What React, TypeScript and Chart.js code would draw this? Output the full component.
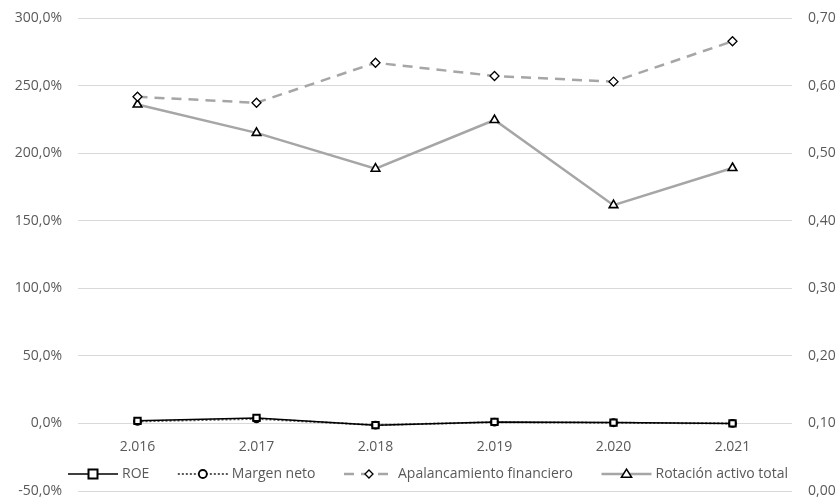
import React, { useEffect, useRef } from "react";
import { Chart, registerables } from "chart.js";

Chart.register(...registerables);

const categories = ["2.016", "2.017", "2.018", "2.019", "2.020", "2.021"];
const roe = [0.019, 0.041, -0.013, 0.011, 0.006, 0.0];
const margenNeto = [0.015, 0.034, -0.012, 0.009, 0.005, 0.0];
const apalancamiento = [2.417, 2.373, 2.669, 2.571, 2.529, 2.828];
const rotacion = [0.572, 0.53, 0.477, 0.549, 0.423, 0.478];
const seriesNames = ["ROE", "Margen neto", "Apalancamiento financiero", "Rotación activo total"];

const FONT = "'Open Sans', 'Liberation Sans', sans-serif";
const FONT_SIZE = 14;
const TEXT_COLOR = "#595959";
const GRID_COLOR = "#d9d9d9";

function drawMarker(ctx: CanvasRenderingContext2D, style: string, x: number, y: number, r: number) {
  ctx.beginPath();
  if (style === "rect") {
    ctx.rect(x - r, y - r, 2 * r, 2 * r);
  } else if (style === "circle") {
    ctx.arc(x, y, r, 0, Math.PI * 2);
  } else if (style === "rectRot") {
    ctx.moveTo(x, y - r);
    ctx.lineTo(x + r, y);
    ctx.lineTo(x, y + r);
    ctx.lineTo(x - r, y);
    ctx.closePath();
  } else if (style === "triangle") {
    const h = r * 1.6;
    ctx.moveTo(x, y - h * 0.6);
    ctx.lineTo(x + r, y + h * 0.4);
    ctx.lineTo(x - r, y + h * 0.4);
    ctx.closePath();
  }
  ctx.fill();
  ctx.stroke();
}

const legendPlugin = {
  id: "customLegend",
  afterDraw(chart: any) {
    const ctx: CanvasRenderingContext2D = chart.ctx;
    const area = chart.chartArea;
    ctx.save();
    ctx.font = `${FONT_SIZE}px ${FONT}`;
    const symW = 50;
    const textGap = 4;
    const widths = seriesNames.map((n) => ctx.measureText(n).width);
    const startX = area.left - 10;
    const endX = area.right - 4;
    const used = widths.reduce((a, w) => a + symW + textGap + w, 0);
    const itemGap = (endX - startX - used) / (seriesNames.length - 1);
    const y = area.bottom - 17;
    let x = startX;
    chart.data.datasets.forEach((ds: any, i: number) => {
      ctx.save();
      ctx.strokeStyle = ds.borderColor;
      ctx.lineWidth = ds.borderWidth;
      ctx.setLineDash(ds.borderDash || []);
      ctx.beginPath();
      ctx.moveTo(x, y);
      ctx.lineTo(x + symW, y);
      ctx.stroke();
      ctx.setLineDash([]);
      ctx.fillStyle = ds.pointBackgroundColor;
      ctx.strokeStyle = ds.pointBorderColor;
      ctx.lineWidth = ds.pointBorderWidth;
      drawMarker(ctx, ds.pointStyle, x + symW / 2, y, ds.legendRadius);
      ctx.restore();
      ctx.fillStyle = TEXT_COLOR;
      ctx.textBaseline = "middle";
      ctx.textAlign = "left";
      ctx.fillText(seriesNames[i], x + symW + textGap, y);
      x += symW + textGap + widths[i] + itemGap;
    });
    ctx.restore();
  },
};

export default function App() {
  const ref = useRef<HTMLCanvasElement | null>(null);
  useEffect(() => {
    document.body.style.margin = "0";
    const canvas = ref.current!;
    const chart = new Chart(canvas, {
      type: "line",
      data: {
        labels: categories,
        datasets: [
          {
            label: seriesNames[0],
            data: roe,
            yAxisID: "y",
            borderColor: "#000000",
            borderWidth: 1.5,
            pointStyle: "rect",
            pointRadius: 4.5,
            pointBorderWidth: 2,
            pointBorderColor: "#000000",
            pointBackgroundColor: "#ffffff",
            legendRadius: 4.5,
          } as any,
          {
            label: seriesNames[1],
            data: margenNeto,
            yAxisID: "y",
            borderColor: "#595959",
            borderWidth: 2,
            borderDash: [2, 2],
            pointStyle: "circle",
            pointRadius: 3.5,
            pointBorderWidth: 1.8,
            pointBorderColor: "#000000",
            pointBackgroundColor: "#ffffff",
            legendRadius: 4,
          } as any,
          {
            label: seriesNames[2],
            data: apalancamiento,
            yAxisID: "y",
            borderColor: "#a6a6a6",
            borderWidth: 2.5,
            borderDash: [10, 7],
            pointStyle: "rectRot",
            pointRadius: 4.5,
            pointBorderWidth: 1.3,
            pointBorderColor: "#000000",
            pointBackgroundColor: "#ffffff",
            legendRadius: 4,
          } as any,
          {
            label: seriesNames[3],
            data: rotacion,
            yAxisID: "y1",
            borderColor: "#a6a6a6",
            borderWidth: 2.5,
            pointStyle: "triangle",
            pointRadius: 5,
            pointBorderWidth: 1.6,
            pointBorderColor: "#000000",
            pointBackgroundColor: "#ffffff",
            legendRadius: 5,
          } as any,
        ],
      },
      options: {
        responsive: false,
        animation: false,
        devicePixelRatio: 1,
        layout: { padding: { top: 18, bottom: 9, left: 0, right: 0 } },
        plugins: {
          legend: { display: false },
          tooltip: { enabled: false },
        },
        elements: { line: { tension: 0 } },
        scales: {
          x: {
            position: { y: 0 } as any,
            offset: true,
            grid: { display: false, drawTicks: false },
            border: { display: false },
            ticks: {
              padding: 15,
              color: TEXT_COLOR,
              font: { family: FONT, size: FONT_SIZE },
              maxRotation: 0,
            },
            afterFit: (s: any) => {
              s.height = 0;
              s.paddingLeft = 0;
              s.paddingRight = 0;
            },
          },
          y: {
            position: "left",
            min: -0.5,
            max: 3,
            ticks: {
              stepSize: 0.5,
              padding: 16,
              color: TEXT_COLOR,
              font: { family: FONT, size: FONT_SIZE },
              callback: (v: any) => (Number(v) * 100).toFixed(1).replace(".", ",") + "%",
            },
            grid: { color: GRID_COLOR, lineWidth: 1, drawTicks: false },
            border: { display: false },
            afterFit: (s: any) => {
              s.width = 78;
              s.paddingTop = 0;
              s.paddingBottom = 0;
            },
          },
          y1: {
            position: "right",
            min: 0,
            max: 0.7,
            ticks: {
              stepSize: 0.1,
              padding: 16,
              color: TEXT_COLOR,
              font: { family: FONT, size: FONT_SIZE },
              callback: (v: any) => Number(v).toFixed(2).replace(".", ","),
            },
            grid: { drawOnChartArea: false, drawTicks: false },
            border: { display: false },
            afterFit: (s: any) => {
              s.width = 47;
              s.paddingTop = 0;
              s.paddingBottom = 0;
            },
          },
        },
      },
      plugins: [legendPlugin],
    });
    return () => chart.destroy();
  }, []);
  return (
    <div style={{ position: "absolute", left: 0, top: 0, width: 839, height: 500, background: "#fff" }}>
      <canvas ref={ref} width={839} height={500} />
    </div>
  );
}
